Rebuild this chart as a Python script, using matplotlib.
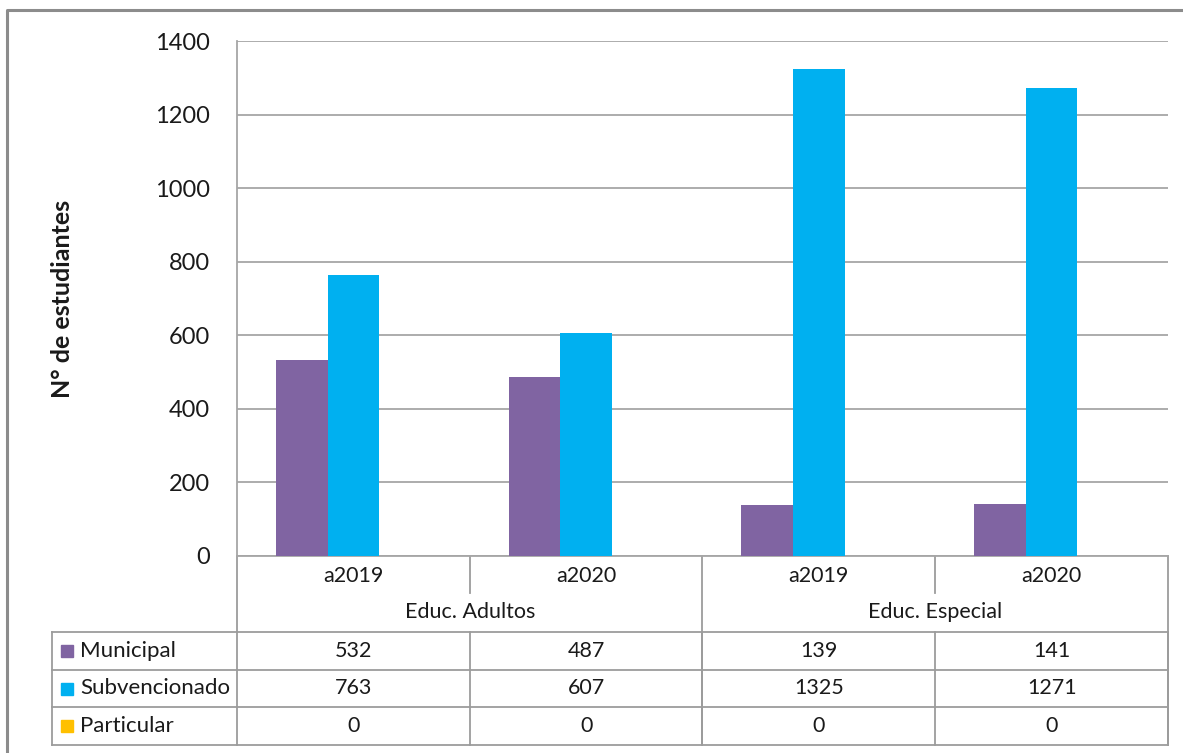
import matplotlib
matplotlib.use("Agg")
import matplotlib.pyplot as plt
import numpy as np

plt.rcParams['font.family'] = ['Lato', 'DejaVu Sans']

groups = ["Educ. Adultos", "Educ. Especial"]
years = ["a2019", "a2020", "a2019", "a2020"]
series_names = ["Municipal", "Subvencionado", "Particular"]
municipal = [532, 487, 139, 141]
subvencionado = [763, 607, 1325, 1271]
particular = [0, 0, 0, 0]
series_values = [municipal, subvencionado, particular]
colors = ["#8064A2", "#00B0F0", "#FFC000"]
yticks = [0, 200, 400, 600, 800, 1000, 1200, 1400]

W, H = 1183, 753
fig = plt.figure(figsize=(W / 100, H / 100), dpi=100)

# layout in pixels
L, R, T, B = 237, 1168, 41, 556
hdr1 = 593
row_h = [632, 670, 707, 745]
tbl_left = 52
grid_c = "#a6a6a6"
line_c = "#9c9c9c"
txt_c = "#1a1a1a"

ax = fig.add_axes([L / W, 1 - B / H, (R - L) / W, (B - T) / H])
ncat = len(years)
x = np.arange(ncat) + 0.5
bw = 1 / 4.5
for k, (vals, c) in enumerate(zip(series_values, colors)):
    ax.bar(x + (k - 1) * bw, vals, width=bw, color=c, zorder=3)
ax.set_xlim(0, ncat)
ax.set_ylim(0, 1400)
ax.set_yticks(yticks)
ax.set_yticklabels([str(v) for v in yticks], fontsize=17, color=txt_c)
ax.tick_params(axis='y', length=0, pad=19.5)
ax.set_xticks([])
ax.grid(axis='y', color=grid_c, linewidth=1.3, zorder=0)
for s in ['top', 'right']:
    ax.spines[s].set_visible(False)
ax.spines['left'].set_color(grid_c)
ax.spines['left'].set_linewidth(1.3)
ax.spines['bottom'].set_color(grid_c)
ax.spines['bottom'].set_linewidth(1.3)
ax.set_ylabel("N° de estudiantes", fontsize=18, fontweight='bold', color=txt_c)
ax.yaxis.set_label_coords((74 - L) / (R - L), 0.5)

# overlay in pixel coordinates
ov = fig.add_axes([0, 0, 1, 1], zorder=-1)
ov.set_xlim(0, W)
ov.set_ylim(H, 0)
ov.axis('off')

def px(i):
    return L + i * (R - L) / ncat

lw = 1.3
fs = 15.5
# outer border
ov.plot([7, 7, W + 5], [H + 5, 10, 10], color="#8c8c8c", lw=2.2, solid_capstyle='butt')

# header vertical lines
for i in range(ncat + 1):
    if i % 2 == 0:
        ov.plot([px(i), px(i)], [B, row_h[-1]], color=line_c, lw=lw)
    else:
        ov.plot([px(i), px(i)], [B, hdr1], color=line_c, lw=lw)
for i in range(ncat):
    ov.text((px(i) + px(i + 1)) / 2, 576, years[i], ha='center', va='center', fontsize=fs, color=txt_c)
    ov.plot([px(i + 1)] * 2, [row_h[0], row_h[-1]], color=line_c, lw=lw)
for g, name in enumerate(groups):
    ov.text((px(2 * g) + px(2 * g + 2)) / 2, 612, name, ha='center', va='center', fontsize=fs, color=txt_c)

# table rows
for y in row_h:
    ov.plot([tbl_left, R], [y, y], color=line_c, lw=lw)
ov.plot([tbl_left, tbl_left], [row_h[0], row_h[-1]], color=line_c, lw=lw)
for r, (name, vals, c) in enumerate(zip(series_names, series_values, colors)):
    yc = (row_h[r] + row_h[r + 1]) / 2
    ov.add_patch(plt.Rectangle((61, yc - 6), 12, 12, color=c))
    ov.text(80, yc, name, ha='left', va='center', fontsize=16, color=txt_c)
    for i, v in enumerate(vals):
        ov.text((px(i) + px(i + 1)) / 2, yc, str(v), ha='center', va='center', fontsize=fs, color=txt_c)

fig.savefig("out.png", dpi=100, facecolor='white')
